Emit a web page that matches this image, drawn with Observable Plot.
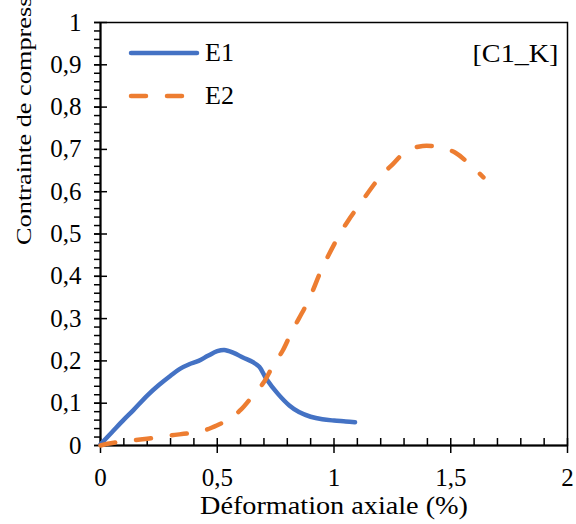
<!DOCTYPE html>
<html><head><meta charset="utf-8">
<script src="https://cdn.jsdelivr.net/npm/d3@7"></script>
<script src="https://cdn.jsdelivr.net/npm/@observablehq/plot@0.6"></script>
<style>
body{margin:0;background:#fff;font-family:serif}
#chart{position:relative;width:576px;height:524px}
</style>
</head><body><div id="chart"></div>
<script>
// ---- data ----
const seriesNames = ["E1", "E2"];
const seriesColors = ["#4472C4", "#ED7D31"];
const e1X = [0, 0.05, 0.1, 0.14, 0.2, 0.25, 0.3, 0.34, 0.38, 0.42, 0.46, 0.5, 0.53, 0.57, 0.61, 0.65, 0.68, 0.71, 0.76, 0.81, 0.85, 0.9, 0.95, 1.0, 1.05, 1.09];
const e1Y = [0.003, 0.032, 0.061, 0.083, 0.118, 0.143, 0.165, 0.181, 0.192, 0.2, 0.212, 0.223, 0.226, 0.219, 0.208, 0.198, 0.186, 0.158, 0.122, 0.094, 0.079, 0.068, 0.062, 0.059, 0.057, 0.055];
const e2X = [0, 0.03, 0.1, 0.2, 0.3, 0.38, 0.44, 0.5, 0.55, 0.6, 0.66, 0.7, 0.74, 0.78, 0.82, 0.89, 0.95, 1.02, 1.06, 1.11, 1.2, 1.25, 1.31, 1.38, 1.46, 1.52, 1.59, 1.64];
const e2Y = [0, 0.004, 0.01, 0.016, 0.024, 0.029, 0.035, 0.048, 0.062, 0.084, 0.123, 0.15, 0.19, 0.224, 0.27, 0.342, 0.42, 0.495, 0.531, 0.57, 0.637, 0.664, 0.696, 0.708, 0.704, 0.692, 0.66, 0.634];
const yTicks = [0, 0.1, 0.2, 0.3, 0.4, 0.5, 0.6, 0.7, 0.8, 0.9, 1];
const yMinorTicks = [0,0.02,0.04,0.06,0.08,0.1,0.12,0.14,0.16,0.18,0.2,0.22,0.24,0.26,0.28,0.3,0.32,0.34,0.36,0.38,0.4,0.42,0.44,0.46,0.48,0.5,0.52,0.54,0.56,0.58,0.6,0.62,0.64,0.66,0.68,0.7,0.72,0.74,0.76,0.78,0.8,0.82,0.84,0.86,0.88,0.9,0.92,0.94,0.96,0.98,1];
const xTicks = [0, 0.5, 1, 1.5, 2];
const xMinorTicks = [0,0.1,0.2,0.3,0.4,0.5,0.6,0.7,0.8,0.9,1,1.1,1.2,1.3,1.4,1.5,1.6,1.7,1.8,1.9,2];
const xTitle = "Déformation axiale (%)";
const yTitle = "Contrainte de compression (MPa)";
const tag = "[C1_K]";

// ---- layout ----
const W = 576, H = 524, mL = 100, mR = 9, mT = 22, mB = 79;
const innerW = W - mL - mR, innerH = H - mT - mB;
const fmt = d => String(d).replace(".", ",");
const rows1 = e1X.map((x, i) => ({x, y: e1Y[i]}));
const rows2 = e2X.map((x, i) => ({x, y: e2Y[i]}));
const font = "serif";

const plot = Plot.plot({
  width: W, height: H,
  marginLeft: mL, marginRight: mR, marginTop: mT, marginBottom: mB,
  style: {background: "#fff", color: "#000", fontFamily: font},
  x: {domain: [0, 2]},
  y: {domain: [0, 1]},
  marks: [
    Plot.axisY(yMinorTicks, {tickSize: 6, text: null, strokeWidth: 1.5, label: null}),
    Plot.axisY(yTicks, {tickSize: 6, tickPadding: 13, tickFormat: fmt, strokeWidth: 1.5, label: null, fontSize: 25}),
    Plot.tickY(yTicks, {y: d => d, insetRight: innerW - 7, strokeWidth: 1.5}),
    Plot.axisX(xTicks, {tickSize: 8, tickPadding: 15, tickFormat: fmt, strokeWidth: 1.5, label: null, fontSize: 25}),
    Plot.tickX(xMinorTicks, {x: d => d, insetTop: innerH - 7, strokeWidth: 1.5}),
    Plot.frame({stroke: "#000", strokeWidth: 1.5}),
    Plot.ruleX([0], {strokeWidth: 2}),
    Plot.ruleY([0], {strokeWidth: 2}),
    Plot.line(rows1, {x: "x", y: "y", stroke: seriesColors[0], strokeWidth: 4.5, curve: "catmull-rom", strokeLinecap: "round", strokeLinejoin: "round"}),
    Plot.line(rows2, {x: "x", y: "y", stroke: seriesColors[1], strokeWidth: 4.5, curve: "catmull-rom", strokeLinecap: "round", strokeDasharray: "15,21"}),
    Plot.text([yTitle], {text: d => d, frameAnchor: "left", rotate: -90, dx: -76, dy: 11, fontSize: 20}),
    Plot.text([xTitle], {text: d => d, frameAnchor: "bottom", dy: 68, fontSize: 26}),
    Plot.text([tag], {text: d => d, frameAnchor: "top-right", textAnchor: "end", dx: -9, dy: 21, fontSize: 26})
  ]
});
document.getElementById("chart").appendChild(plot);

// ---- legend (drawn into the plot's svg) ----
const svg = d3.select(plot);
const lg = svg.append("g");
const dashes = [null, "15,21"];
seriesNames.forEach((name, i) => {
  const y = 53 + i * 43;
  lg.append("line").attr("x1", 131).attr("x2", 197).attr("y1", y).attr("y2", y)
    .attr("stroke", seriesColors[i]).attr("stroke-width", 4.5).attr("stroke-linecap", "round")
    .attr("stroke-dasharray", dashes[i]);
  lg.append("text").attr("x", 205).attr("y", y).attr("dy", "0.32em").attr("fill", "#000")
    .attr("font-size", 26).attr("text-anchor", "start").text(name);
});
svg.attr("font-family", font);
svg.selectAll("text").attr("font-family", font).style("font-family", font);
// keep the titles at the reference's length whatever font is used
const titleLengths = new Map([[yTitle, 356], [xTitle, 268], [tag, 86]]);
svg.selectAll("text").each(function() {
  const L = titleLengths.get(this.textContent);
  if (L) { this.setAttribute("textLength", L); this.setAttribute("lengthAdjust", "spacingAndGlyphs"); }
});
</script>
</body></html>
